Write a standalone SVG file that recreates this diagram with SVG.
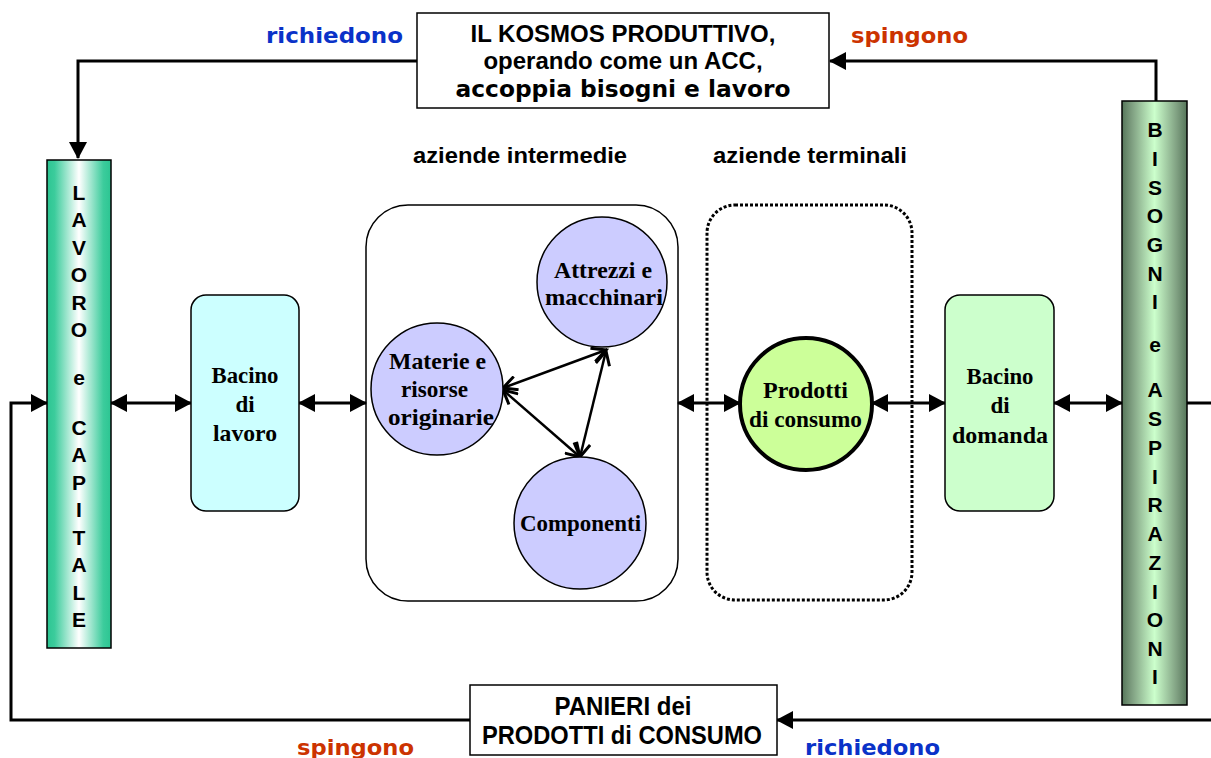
<svg xmlns="http://www.w3.org/2000/svg" width="1211" height="758" viewBox="0 0 1211 758">
<style>
.sans{font-family:"Liberation Sans",Arial,sans-serif;font-weight:bold;fill:#000}
.wide{font-family:"DejaVu Sans",Verdana,sans-serif;font-weight:bold}
.serif{font-family:"Liberation Serif","Times New Roman",serif;font-weight:bold;fill:#000;font-size:23px}
.col{font-family:"Liberation Sans",Arial,sans-serif;font-weight:bold;font-size:21px;fill:#000}
.conn{fill:none;stroke:#000;stroke-width:3}
.thin{fill:none;stroke:#000;stroke-width:2.5}
.circ{fill:#ccccff;stroke:#000;stroke-width:1.5}
.blue{fill:#0a32c8}
.red{fill:#cc3300}
</style>
<defs>
<linearGradient id="gLav" x1="0" y1="0" x2="1" y2="0">
<stop offset="0" stop-color="#2cc592"/>
<stop offset="0.12" stop-color="#3ccc9c"/>
<stop offset="0.5" stop-color="#ffffff"/>
<stop offset="0.88" stop-color="#3ccc9c"/>
<stop offset="1" stop-color="#2cc592"/>
</linearGradient>
<linearGradient id="gBis" x1="0" y1="0" x2="1" y2="0">
<stop offset="0" stop-color="#56765a"/>
<stop offset="0.15" stop-color="#7e9e80"/>
<stop offset="0.5" stop-color="#ccffcc"/>
<stop offset="0.85" stop-color="#7e9e80"/>
<stop offset="1" stop-color="#56765a"/>
</linearGradient>
<marker id="tri" markerUnits="userSpaceOnUse" markerWidth="17" markerHeight="18" refX="16" refY="9" orient="auto-start-reverse">
<path d="M0,0 L17,9 L0,18 z" fill="#000"/>
</marker>
<marker id="vee" markerUnits="userSpaceOnUse" markerWidth="18" markerHeight="16" refX="15" refY="8" orient="auto-start-reverse">
<path d="M1,1 L15,8 L1,15" fill="none" stroke="#000" stroke-width="3"/>
</marker>
</defs>
<rect width="1211" height="758" fill="#fff"/>

<g id="connectors">
<path class="conn" d="M417,61 H78 V158" marker-end="url(#tri)"/>
<path class="conn" d="M1156,101 V61 H830" marker-end="url(#tri)"/>
<path class="conn" d="M470,720 H11 V403 H47" marker-end="url(#tri)"/>
<path class="conn" d="M1187,403 H1230 V720 H777" marker-end="url(#tri)"/>
<path class="conn" d="M111,403 H191" marker-start="url(#tri)" marker-end="url(#tri)"/>
<path class="conn" d="M299,403 H366" marker-start="url(#tri)" marker-end="url(#tri)"/>
<path class="conn" d="M678,403 H740" marker-start="url(#tri)" marker-end="url(#tri)"/>
<path class="conn" d="M872,403 H945" marker-start="url(#tri)" marker-end="url(#tri)"/>
<path class="conn" d="M1054,403 H1122" marker-start="url(#tri)" marker-end="url(#tri)"/>
<path class="thin" d="M503,388 L606,350" marker-start="url(#vee)" marker-end="url(#vee)"/>
<path class="thin" d="M503,390 L580,457" marker-start="url(#vee)" marker-end="url(#vee)"/>
<path class="thin" d="M606,351 L580,457" marker-start="url(#vee)" marker-end="url(#vee)"/>
</g>

<g id="labels">
<text class="wide blue" x="266" y="43" font-size="21" textLength="137" lengthAdjust="spacingAndGlyphs">richiedono</text>
<text class="wide red" x="851" y="43" font-size="21" textLength="117" lengthAdjust="spacingAndGlyphs">spingono</text>
<text class="wide red" x="297" y="755" font-size="22" textLength="117" lengthAdjust="spacingAndGlyphs">spingono</text>
<text class="wide blue" x="805" y="755" font-size="22" textLength="135" lengthAdjust="spacingAndGlyphs">richiedono</text>
<text class="sans" x="413" y="163" font-size="22" textLength="214" lengthAdjust="spacingAndGlyphs">aziende intermedie</text>
<text class="sans" x="713" y="163" font-size="22" textLength="194" lengthAdjust="spacingAndGlyphs">aziende terminali</text>
</g>

<g id="kosmos">
<rect x="417" y="13" width="412" height="95" fill="#fff" stroke="#000" stroke-width="1.5"/>
<text class="sans" x="623" y="42" font-size="24" text-anchor="middle">IL KOSMOS PRODUTTIVO,</text>
<text class="sans" x="623" y="69" font-size="24" text-anchor="middle">operando come un ACC,</text>
<text class="wide" x="623" y="97" font-size="23" text-anchor="middle" textLength="335" lengthAdjust="spacingAndGlyphs">accoppia bisogni e lavoro</text>
</g>

<g id="panieri">
<rect x="470" y="685" width="307" height="70" fill="#fff" stroke="#000" stroke-width="1.5"/>
<text class="sans" x="623" y="715" font-size="25" text-anchor="middle" textLength="137" lengthAdjust="spacingAndGlyphs">PANIERI dei</text>
<text class="sans" x="622" y="744" font-size="25" text-anchor="middle" textLength="280" lengthAdjust="spacingAndGlyphs">PRODOTTI di CONSUMO</text>
</g>

<g id="lavoro-capitale">
<rect x="47" y="160" width="64" height="488" fill="url(#gLav)" stroke="#000" stroke-width="1.5"/>
<text class="col" text-anchor="middle">
<tspan x="79" y="200">L</tspan><tspan x="79" y="227">A</tspan><tspan x="79" y="255">V</tspan><tspan x="79" y="282">O</tspan><tspan x="79" y="310">R</tspan><tspan x="79" y="337">O</tspan><tspan x="79" y="385">e</tspan><tspan x="79" y="435">C</tspan><tspan x="79" y="462">A</tspan><tspan x="79" y="490">P</tspan><tspan x="79" y="517">I</tspan><tspan x="79" y="545">T</tspan><tspan x="79" y="572">A</tspan><tspan x="79" y="600">L</tspan><tspan x="79" y="627">E</tspan>
</text>
</g>

<g id="bisogni-aspirazioni">
<rect x="1122" y="101" width="65" height="604" fill="url(#gBis)" stroke="#000" stroke-width="1.5"/>
<text class="col" text-anchor="middle">
<tspan x="1155" y="137">B</tspan><tspan x="1155" y="166">I</tspan><tspan x="1155" y="195">S</tspan><tspan x="1155" y="223">O</tspan><tspan x="1155" y="252">G</tspan><tspan x="1155" y="281">N</tspan><tspan x="1155" y="309">I</tspan><tspan x="1155" y="352">e</tspan><tspan x="1155" y="397">A</tspan><tspan x="1155" y="426">S</tspan><tspan x="1155" y="455">P</tspan><tspan x="1155" y="484">I</tspan><tspan x="1155" y="512">R</tspan><tspan x="1155" y="541">A</tspan><tspan x="1155" y="570">Z</tspan><tspan x="1155" y="599">I</tspan><tspan x="1155" y="627">O</tspan><tspan x="1155" y="656">N</tspan><tspan x="1155" y="684">I</tspan>
</text>
</g>

<g id="bacino-lavoro">
<rect x="191" y="295" width="108" height="216" rx="15" fill="#ccffff" stroke="#000" stroke-width="1.5"/>
<text class="serif" text-anchor="middle"><tspan x="245" y="383" textLength="67" lengthAdjust="spacingAndGlyphs">Bacino</tspan><tspan x="245" y="412">di</tspan><tspan x="245" y="441" textLength="64" lengthAdjust="spacingAndGlyphs">lavoro</tspan></text>
</g>

<g id="aziende-intermedie">
<rect x="366" y="205" width="312" height="396" rx="42" fill="none" stroke="#000" stroke-width="1.5"/>
</g>

<g id="attrezzi">
<circle class="circ" cx="602" cy="282" r="65"/>
<text class="serif"><tspan x="554" y="278" textLength="98" lengthAdjust="spacingAndGlyphs">Attrezzi e</tspan><tspan x="545" y="305" textLength="118" lengthAdjust="spacingAndGlyphs">macchinari</tspan></text>
</g>

<g id="materie">
<circle class="circ" cx="437" cy="389" r="66"/>
<text class="serif"><tspan x="389" y="369" textLength="97" lengthAdjust="spacingAndGlyphs">Materie e</tspan><tspan x="401" y="397" textLength="67" lengthAdjust="spacingAndGlyphs">risorse</tspan><tspan x="388" y="425" textLength="106" lengthAdjust="spacingAndGlyphs">originarie</tspan></text>
</g>

<g id="componenti">
<circle class="circ" cx="580" cy="523" r="66"/>
<text class="serif" x="520" y="531" textLength="121" lengthAdjust="spacingAndGlyphs">Componenti</text>
</g>

<g id="aziende-terminali">
<rect x="707" y="205" width="205" height="395" rx="28" fill="none" stroke="#000" stroke-width="3" stroke-dasharray="3,2"/>
</g>

<g id="prodotti">
<circle cx="806" cy="404" r="66" fill="#ccff99" stroke="#000" stroke-width="4"/>
<text class="serif"><tspan x="763" y="398" textLength="85" lengthAdjust="spacingAndGlyphs">Prodotti</tspan><tspan x="749" y="427" textLength="113" lengthAdjust="spacingAndGlyphs">di consumo</tspan></text>
</g>

<g id="bacino-domanda">
<rect x="945" y="295" width="109" height="216" rx="15" fill="#ccffcc" stroke="#000" stroke-width="1.5"/>
<text class="serif" text-anchor="middle"><tspan x="1000" y="384" textLength="67" lengthAdjust="spacingAndGlyphs">Bacino</tspan><tspan x="1000" y="413">di</tspan><tspan x="1000" y="443" textLength="96" lengthAdjust="spacingAndGlyphs">domanda</tspan></text>
</g>
</svg>
